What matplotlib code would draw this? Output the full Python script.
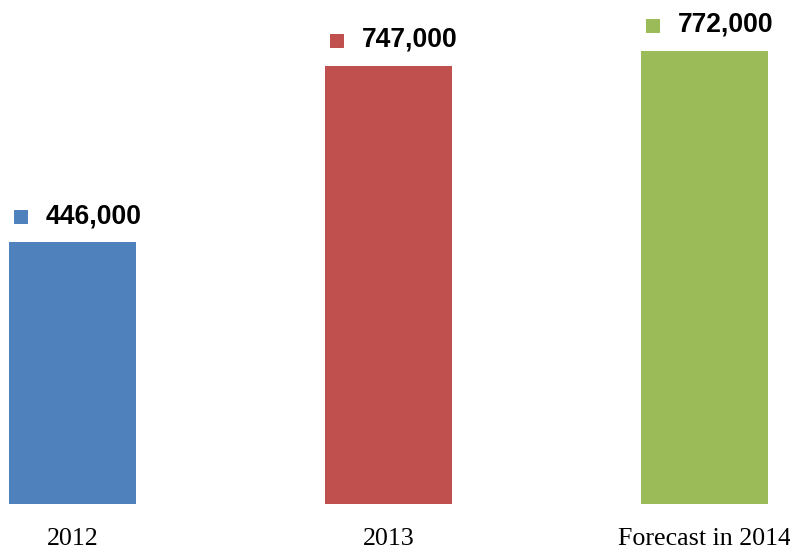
import matplotlib
matplotlib.use('Agg')
import matplotlib.pyplot as plt
from matplotlib.transforms import ScaledTranslation

categories = ['2012', '2013', 'Forecast in 2014']
values = [446000, 747000, 772000]
colors = ['#4F81BD', '#C0504D', '#9BBB59']

# dpi 72 so that points and pixels line up
fig = plt.figure(figsize=(790 / 72, 551 / 72), dpi=72)
ax = fig.add_axes([0, 47 / 551, 1, 504 / 551])

x = range(len(categories))
ax.bar(x, values, width=0.402, color=colors)

ax.set_xlim(-0.2294, 2.2706)
ax.set_ylim(0, 858900)

# legend-key square shifted left/up from the bar top
key_shift = ax.transData + ScaledTranslation(-52 / 72, 26 / 72, fig.dpi_scale_trans)

for i, v in enumerate(values):
    ax.plot([i], [v], marker='s', markersize=13, color=colors[i],
            linestyle='none', clip_on=False, transform=key_shift)
    ax.annotate(f'{v:,}', xy=(i, v), xytext=(-27, 26), textcoords='offset points',
                ha='left', va='center', fontsize=26.5, fontweight='bold',
                family='Liberation Sans', color='black')

ax.set_xticks(list(x))
ax.set_xticklabels(categories, family='Liberation Serif', fontsize=26)
ax.tick_params(axis='x', length=0, pad=24)
ax.set_yticks([])
for s in ax.spines.values():
    s.set_visible(False)

fig.savefig('out.png', dpi=72)
